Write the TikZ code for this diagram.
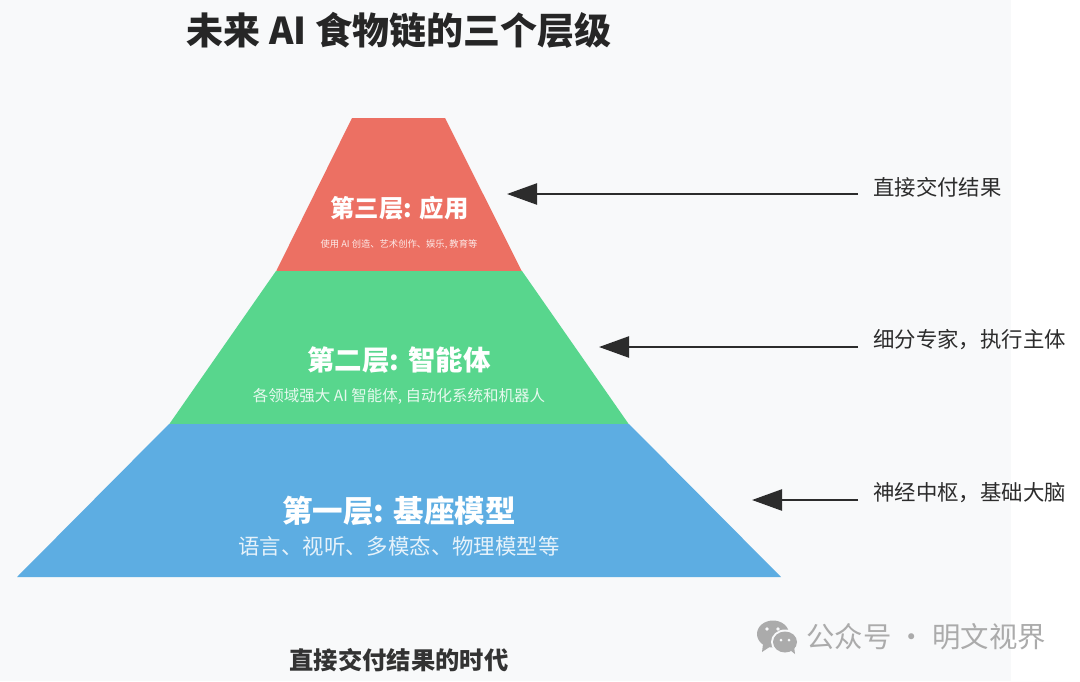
\documentclass[tikz,border=0pt]{standalone}
\usepackage{fontspec}
\setmainfont{Noto Sans CJK SC}
\usetikzlibrary{arrows.meta}
\definecolor{bgc}{HTML}{F8F9FA}
\definecolor{redc}{HTML}{EC7063}
\definecolor{greenc}{HTML}{58D68D}
\definecolor{bluec}{HTML}{5DADE2}
\definecolor{inkc}{HTML}{2C2C2C}
\definecolor{markc}{HTML}{ABABAB}
\tikzset{
  px/.style={x=1pt,y=-1pt},
  lab/.style={inner sep=0pt,anchor=center},
  tiertitle/.style={lab,text=white,font=\bfseries\fontsize{#1}{#1}\selectfont},
  tiersub/.style={lab,text=white,opacity=.85,font=\fontsize{#1}{#1}\selectfont},
  sidelab/.style={lab,anchor=west,text=inkc,font=\fontsize{21.4}{22}\selectfont},
  pointer/.style={draw=inkc,line width=2.4pt,-{Triangle[length=30pt,width=21pt]}},
}
\begin{document}
\begin{tikzpicture}[px]
\useasboundingbox (0,0) rectangle (1080,681);
\fill[white] (0,0) rectangle (1080,681);
\fill[bgc] (0,0) rectangle (1011,681);
% pyramid
\fill[redc] (352,118) -- (445,118) -- (522,271.5) -- (276,271.5) -- cycle;
\fill[greenc] (276,271) -- (522,271) -- (629,424.5) -- (169,424.5) -- cycle;
\fill[bluec] (169,424) -- (629,424) -- (781,577) -- (17,577) -- cycle;
% texts
\node[lab,text=black!85,font=\bfseries\fontsize{37}{37}\selectfont] (title) at (399,30) {未来 AI 食物链的三个层级};
\node[tiertitle=24.4] (t3) at (399.5,208) {第三层: 应用};
\node[tiersub=9.3] (s3) at (399,244) {使用 AI 创造、艺术创作、娱乐, 教育等};
\node[tiertitle=27.5] (t2) at (399,360) {第二层: 智能体};
\node[tiersub=15.5] (s2) at (399,396) {各领域强大 AI 智能体, 自动化系统和机器人};
\node[tiertitle=30.5] (t1) at (399,511) {第一层: 基座模型};
\node[tiersub=21.4] (s1) at (399,546) {语言、视听、多模态、物理模型等};
\node[lab,text=black!80,font=\bfseries\fontsize{24.3}{25}\selectfont] (foot) at (399,660) {直接交付结果的时代};
% side labels and pointers
\node[sidelab] (l3) at (873,187) {直接交付结果};
\node[sidelab] (l2) at (873,340) {细分专家，执行主体};
\node[sidelab] (l1) at (873,493) {神经中枢，基础大脑};
\coordinate (a3s) at (858,194); \coordinate (a3e) at (507,194);
\coordinate (a2s) at (858,347); \coordinate (a2e) at (599,347);
\coordinate (a1s) at (858,500); \coordinate (a1e) at (752,500);
\draw[pointer] (a3s) -- (a3e);
\draw[pointer] (a2s) -- (a2e);
\draw[pointer] (a1s) -- (a1e);
% watermark
\fill[markc] (773,634) ellipse (16 and 13.5);
\fill[markc] (763,644) -- (762,652) -- (771,646) -- cycle;
\fill[bgc] (785,642) ellipse (14 and 12.5);
\fill[markc] (785,642) ellipse (12 and 10.5);
\fill[markc] (790,650) -- (795,654) -- (794,646) -- cycle;
\fill[bgc] (767,629) circle (1.8) (778,629) circle (1.8) (781,640) circle (1.5) (789,640) circle (1.5);
\node[lab,anchor=west,text=markc,font=\fontsize{28.4}{29}\selectfont] (wm) at (806,637) {公众号 · 明文视界};
\end{tikzpicture}
\end{document}
